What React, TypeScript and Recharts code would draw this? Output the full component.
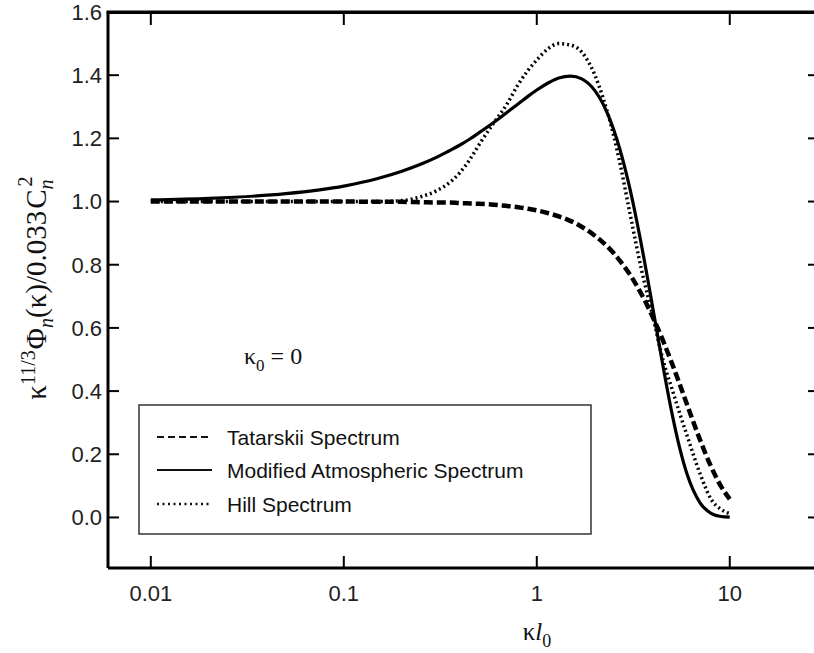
import { LineChart, Line, XAxis, YAxis } from "recharts"

// κl0 sample points and the three spectra
const kl = [
  0.01, 0.02, 0.05, 0.1, 0.15, 0.2, 0.25, 0.3, 0.35, 0.4, 0.45, 0.5, 0.6, 0.7, 0.8, 0.9, 1.0, 1.15, 1.3,
  1.5, 1.7, 2.0, 2.2, 2.5, 2.7, 3.0, 3.5, 4.0, 4.5, 5.0, 5.5, 6.0, 7.0, 8.0, 9.0, 10,
]

const tatarskii = [
  1.0, 1.0, 1.0, 1.0, 0.999, 0.999, 0.998, 0.997, 0.997, 0.995, 0.994, 0.993, 0.99, 0.986, 0.982, 0.977,
  0.972, 0.963, 0.953, 0.938, 0.921, 0.892, 0.871, 0.837, 0.812, 0.774, 0.705, 0.633, 0.561, 0.49, 0.422,
  0.358, 0.247, 0.161, 0.099, 0.058,
]

const modified = [
  1.005, 1.01, 1.025, 1.049, 1.073, 1.096, 1.118, 1.139, 1.16, 1.179, 1.198, 1.217, 1.251, 1.282, 1.309,
  1.333, 1.353, 1.376, 1.391, 1.397, 1.389, 1.351, 1.31, 1.229, 1.164, 1.055, 0.857, 0.66, 0.482, 0.334,
  0.22, 0.138, 0.047, 0.013, 0.003, 0.001,
]

const hill = [
  1.0, 1.0, 1.0, 1.0, 1.0, 1.003, 1.015, 1.033, 1.058, 1.092, 1.133, 1.178, 1.25, 1.308, 1.37, 1.415,
  1.448, 1.485, 1.5, 1.495, 1.475, 1.4, 1.33, 1.21, 1.12, 0.98, 0.78, 0.635, 0.5, 0.41, 0.33, 0.26, 0.14,
  0.058, 0.026, 0.012,
]

const xTicks = [0.01, 0.1, 1, 10]
const xTickLabels = ["0.01", "0.1", "1", "10"]
const yTicks = [0, 0.2, 0.4, 0.6, 0.8, 1.0, 1.2, 1.4, 1.6]

const seriesNames = ["Tatarskii Spectrum", "Modified Atmospheric Spectrum", "Hill Spectrum"]

const rows = kl.map((x, i) => ({
  x,
  tatarskii: tatarskii[i],
  modified: modified[i],
  hill: hill[i],
}))

const sans = "'Liberation Sans', Arial, Helvetica, sans-serif"
const serif = "'Liberation Serif', 'Times New Roman', serif"

const xDomain: [number, number] = [0.006, 29]
const yDomain: [number, number] = [-0.16, 1.6]

// plot box (chart is 840 wide, margin top 12 / right 20, y axis 108, right axis 1)
const plotLeft = 108
const plotRight = 819
const plotTop = 12
const topX = (v: number) =>
  plotLeft +
  ((Math.log10(v) - Math.log10(xDomain[0])) / (Math.log10(xDomain[1]) - Math.log10(xDomain[0]))) *
    (plotRight - plotLeft)

export default function App() {
  const axisLine = { stroke: "#000", strokeWidth: 3 }
  const tickLine = { stroke: "#000", strokeWidth: 2 }
  const tickText = { fontFamily: sans, fontSize: 22, fill: "#222" }
  const blank = () => ""
  return (
    <div
      style={{
        position: "absolute",
        left: 0,
        top: 0,
        width: 814,
        height: 653,
        overflow: "hidden",
        background: "#fff",
      }}
    >
      <LineChart width={840} height={653} data={rows} margin={{ top: plotTop, right: 20, bottom: 0, left: 0 }}>
        <XAxis
          dataKey="x"
          type="number"
          scale="log"
          domain={xDomain}
          allowDataOverflow
          ticks={xTicks}
          interval={0}
          height={85}
          axisLine={axisLine}
          tickLine={tickLine}
          tickSize={-12}
          tickMargin={29}
          tick={tickText}
          tickFormatter={(v: number) => xTickLabels[xTicks.indexOf(v)] ?? String(v)}
        />
        <YAxis
          type="number"
          domain={yDomain}
          allowDataOverflow
          ticks={yTicks}
          interval={0}
          width={108}
          axisLine={axisLine}
          tickLine={tickLine}
          tickSize={-11}
          tickMargin={17}
          tick={tickText}
          tickFormatter={(v: number) => v.toFixed(1)}
        />
        <YAxis
          yAxisId="right"
          orientation="right"
          type="number"
          domain={yDomain}
          allowDataOverflow
          ticks={yTicks}
          interval={0}
          width={1}
          axisLine={axisLine}
          tickLine={tickLine}
          tickSize={-11}
          tick={tickText}
          tickFormatter={blank}
        />
        <Line
          dataKey="tatarskii"
          name={seriesNames[0]}
          type="monotone"
          stroke="#000"
          strokeWidth={4.5}
          strokeDasharray="9 4"
          dot={false}
          isAnimationActive={false}
        />
        <Line
          dataKey="hill"
          name={seriesNames[2]}
          type="monotone"
          stroke="#000"
          strokeWidth={3.5}
          strokeDasharray="2 3"
          dot={false}
          isAnimationActive={false}
        />
        <Line
          dataKey="modified"
          name={seriesNames[1]}
          type="monotone"
          stroke="#000"
          strokeWidth={3.2}
          dot={false}
          isAnimationActive={false}
        />
      </LineChart>

      <svg
        width={814}
        height={653}
        style={{ position: "absolute", left: 0, top: 0, pointerEvents: "none" }}
      >
        {/* top frame with inward ticks */}
        <rect x={plotLeft - 1.5} y={plotTop - 1.5} width={plotRight - plotLeft + 1.5} height={3} fill="#000" />
        {xTicks.map((t) => (
          <rect key={t} x={topX(t) - 1} y={plotTop} width={2} height={13} fill="#000" />
        ))}

        {/* y axis title */}
        <text
          transform="rotate(-90)"
          x={-288}
          y={46}
          textAnchor="middle"
          fontFamily={serif}
          fontSize={29}
          fill="#111"
        >
          <tspan>κ</tspan>
          <tspan dy={-11} fontSize={20}>11/3</tspan>
          <tspan dy={11} dx={1}>Φ</tspan>
          <tspan dy={7} fontSize={20} fontStyle="italic">n</tspan>
          <tspan dy={-7}>(κ)/0.033</tspan>
          <tspan dx={2}>C</tspan>
          <tspan dy={7} fontSize={20} fontStyle="italic">n</tspan>
          <tspan dx={-7} dy={-21} fontSize={20}>2</tspan>
        </text>

        {/* x axis title */}
        <text x={537} y={640} textAnchor="middle" fontFamily={serif} fontSize={25} fill="#111">
          <tspan>κ</tspan>
          <tspan fontStyle="italic">l</tspan>
          <tspan dy={7} fontSize={18}>0</tspan>
        </text>

        {/* annotation */}
        <text x={244} y={364} fontFamily={serif} fontSize={24} fill="#111">
          <tspan>κ</tspan>
          <tspan dy={7} fontSize={17}>0</tspan>
          <tspan dy={-7}> = 0</tspan>
        </text>

        {/* legend */}
        <rect x={139} y={405} width={452} height={129} fill="#fff" stroke="#333" strokeWidth={1.5} />
        <line x1={157} x2={212} y1={437} y2={437} stroke="#111" strokeWidth={2} strokeDasharray="7 4" />
        <text x={227} y={445} fontFamily={sans} fontSize={21} fill="#111">{seriesNames[0]}</text>
        <line x1={157} x2={212} y1={470} y2={470} stroke="#111" strokeWidth={2} />
        <text x={227} y={478} fontFamily={sans} fontSize={21} fill="#111">{seriesNames[1]}</text>
        <line x1={157} x2={212} y1={504} y2={504} stroke="#111" strokeWidth={2.5} strokeDasharray="2 3.5" />
        <text x={227} y={512} fontFamily={sans} fontSize={21} fill="#111">{seriesNames[2]}</text>
      </svg>

      {/* backup top frame as plain html */}
      <div
        style={{
          position: "absolute",
          left: plotLeft - 1.5,
          top: plotTop - 1.5,
          width: plotRight - plotLeft + 1.5,
          height: 0,
          borderTop: "3px solid #000",
          pointerEvents: "none",
        }}
      />
    </div>
  )
}
